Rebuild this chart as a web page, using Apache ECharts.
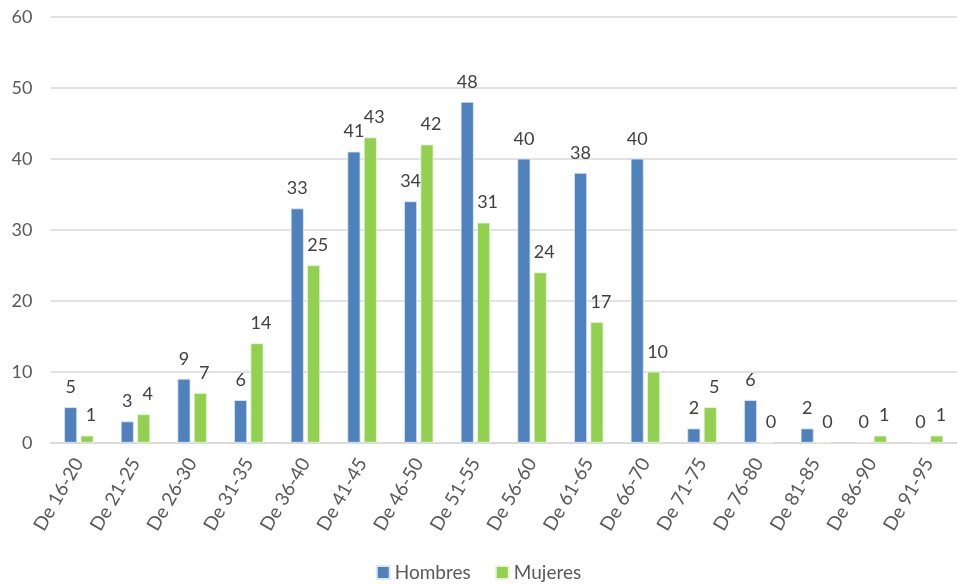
<!DOCTYPE html>
<html><head><meta charset="utf-8">
<script src="https://cdn.jsdelivr.net/npm/echarts@6/dist/echarts.min.js"></script>
<style>html,body{margin:0;padding:0;background:#fff}#c{width:957px;height:584px}</style>
</head><body><div id="c"></div>
<script>
const categories = ["De 16-20","De 21-25","De 26-30","De 31-35","De 36-40","De 41-45","De 46-50","De 51-55","De 56-60","De 61-65","De 66-70","De 71-75","De 76-80","De 81-85","De 86-90","De 91-95"];
const hombres = [5,3,9,6,33,41,34,48,40,38,40,2,6,2,0,0];
const mujeres = [1,4,7,14,25,43,42,31,24,17,10,5,0,0,1,1];
const yTicks = {min:0, max:60, interval:10};

const font = "Lato, 'Open Sans', sans-serif";
const chart = echarts.init(document.getElementById('c'));
const lbl = {show:true, position:'top', distance:11, color:'#404040', fontSize:18, fontFamily:font};
chart.setOption({
  animation:false,
  grid:{left:50.5, top:16.7, width:912, bottom:141.3, containLabel:false},
  legend:{bottom:-3, left:'center', itemWidth:13, itemHeight:13, itemGap:24, icon:'rect',
    textStyle:{color:'#595959', fontSize:19, fontFamily:font}},
  xAxis:{type:'category', data:categories,
    axisLine:{lineStyle:{color:'#d9d9d9', width:1.5}}, axisTick:{show:false},
    axisLabel:{rotate:60, color:'#595959', fontSize:19, fontFamily:font, margin:17, interval:0}},
  yAxis:{type:'value', min:yTicks.min, max:yTicks.max, interval:yTicks.interval,
    axisLine:{show:false}, axisTick:{show:false},
    splitLine:{lineStyle:{color:'#d9d9d9', width:1.5}},
    axisLabel:{color:'#595959', fontSize:18, fontFamily:font, margin:18}},
  series:[
    {name:'Hombres', type:'bar', data:hombres, barWidth:13, barGap:'26%',
     itemStyle:{color:'#4F81BD', borderColor:'#dfe8f3', borderWidth:0.8}, label:lbl},
    {name:'Mujeres', type:'bar', data:mujeres, barWidth:13, barGap:'26%',
     itemStyle:{color:'#92D050', borderColor:'#e9f6dc', borderWidth:0.8}, label:Object.assign({}, lbl, {offset:[4,0]})}
  ]
});
</script></body></html>
